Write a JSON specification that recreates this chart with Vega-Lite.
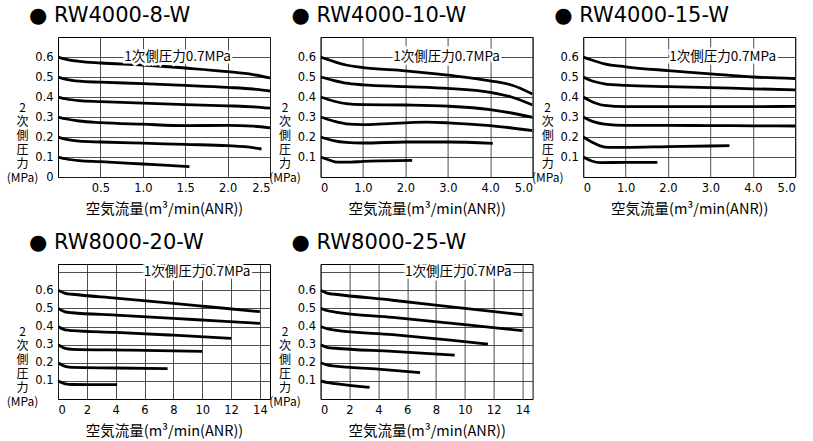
{
  "$schema": "https://vega.github.io/schema/vega-lite/v6.json",
  "background": "white",
  "padding": {"left": 5, "top": 4, "right": 5, "bottom": 3},
  "columns": 3,
  "bounds": "flush",
  "spacing": {"row": 87, "column": 50.6},
  "datasets": {
    "curves": [
      {"p":"RW4000-8-W","s":0.6,"x":0,"y":0.6},{"p":"RW4000-8-W","s":0.6,"x":0.1,"y":0.588},{"p":"RW4000-8-W","s":0.6,"x":0.25,"y":0.578},{"p":"RW4000-8-W","s":0.6,"x":0.5,"y":0.57},{"p":"RW4000-8-W","s":0.6,"x":1.0,"y":0.56},{"p":"RW4000-8-W","s":0.6,"x":1.5,"y":0.545},{"p":"RW4000-8-W","s":0.6,"x":2.0,"y":0.527},{"p":"RW4000-8-W","s":0.6,"x":2.3,"y":0.512},{"p":"RW4000-8-W","s":0.6,"x":2.5,"y":0.495},
      {"p":"RW4000-8-W","s":0.5,"x":0,"y":0.5},{"p":"RW4000-8-W","s":0.5,"x":0.1,"y":0.488},{"p":"RW4000-8-W","s":0.5,"x":0.25,"y":0.479},{"p":"RW4000-8-W","s":0.5,"x":0.5,"y":0.474},{"p":"RW4000-8-W","s":0.5,"x":1.0,"y":0.467},{"p":"RW4000-8-W","s":0.5,"x":1.5,"y":0.458},{"p":"RW4000-8-W","s":0.5,"x":2.0,"y":0.448},{"p":"RW4000-8-W","s":0.5,"x":2.3,"y":0.44},{"p":"RW4000-8-W","s":0.5,"x":2.5,"y":0.43},
      {"p":"RW4000-8-W","s":0.4,"x":0,"y":0.4},{"p":"RW4000-8-W","s":0.4,"x":0.1,"y":0.39},{"p":"RW4000-8-W","s":0.4,"x":0.25,"y":0.382},{"p":"RW4000-8-W","s":0.4,"x":0.5,"y":0.377},{"p":"RW4000-8-W","s":0.4,"x":1.0,"y":0.369},{"p":"RW4000-8-W","s":0.4,"x":1.5,"y":0.362},{"p":"RW4000-8-W","s":0.4,"x":2.0,"y":0.356},{"p":"RW4000-8-W","s":0.4,"x":2.3,"y":0.351},{"p":"RW4000-8-W","s":0.4,"x":2.5,"y":0.344},
      {"p":"RW4000-8-W","s":0.3,"x":0,"y":0.3},{"p":"RW4000-8-W","s":0.3,"x":0.1,"y":0.29},{"p":"RW4000-8-W","s":0.3,"x":0.25,"y":0.28},{"p":"RW4000-8-W","s":0.3,"x":0.5,"y":0.272},{"p":"RW4000-8-W","s":0.3,"x":1.0,"y":0.264},{"p":"RW4000-8-W","s":0.3,"x":1.5,"y":0.257},{"p":"RW4000-8-W","s":0.3,"x":2.0,"y":0.258},{"p":"RW4000-8-W","s":0.3,"x":2.3,"y":0.254},{"p":"RW4000-8-W","s":0.3,"x":2.5,"y":0.246},
      {"p":"RW4000-8-W","s":0.2,"x":0,"y":0.2},{"p":"RW4000-8-W","s":0.2,"x":0.1,"y":0.188},{"p":"RW4000-8-W","s":0.2,"x":0.25,"y":0.179},{"p":"RW4000-8-W","s":0.2,"x":0.5,"y":0.175},{"p":"RW4000-8-W","s":0.2,"x":1.0,"y":0.169},{"p":"RW4000-8-W","s":0.2,"x":1.5,"y":0.163},{"p":"RW4000-8-W","s":0.2,"x":2.0,"y":0.157},{"p":"RW4000-8-W","s":0.2,"x":2.2,"y":0.152},{"p":"RW4000-8-W","s":0.2,"x":2.4,"y":0.14},
      {"p":"RW4000-8-W","s":0.1,"x":0,"y":0.1},{"p":"RW4000-8-W","s":0.1,"x":0.1,"y":0.09},{"p":"RW4000-8-W","s":0.1,"x":0.25,"y":0.082},{"p":"RW4000-8-W","s":0.1,"x":0.5,"y":0.077},{"p":"RW4000-8-W","s":0.1,"x":1.0,"y":0.065},{"p":"RW4000-8-W","s":0.1,"x":1.3,"y":0.058},{"p":"RW4000-8-W","s":0.1,"x":1.55,"y":0.052},

      {"p":"RW4000-10-W","s":0.6,"x":0,"y":0.6},{"p":"RW4000-10-W","s":0.6,"x":0.3,"y":0.578},{"p":"RW4000-10-W","s":0.6,"x":0.6,"y":0.56},{"p":"RW4000-10-W","s":0.6,"x":1.0,"y":0.547},{"p":"RW4000-10-W","s":0.6,"x":2.0,"y":0.531},{"p":"RW4000-10-W","s":0.6,"x":3.0,"y":0.509},{"p":"RW4000-10-W","s":0.6,"x":4.0,"y":0.481},{"p":"RW4000-10-W","s":0.6,"x":4.5,"y":0.46},{"p":"RW4000-10-W","s":0.6,"x":5.0,"y":0.415},
      {"p":"RW4000-10-W","s":0.5,"x":0,"y":0.5},{"p":"RW4000-10-W","s":0.5,"x":0.3,"y":0.483},{"p":"RW4000-10-W","s":0.5,"x":0.6,"y":0.469},{"p":"RW4000-10-W","s":0.5,"x":1.0,"y":0.461},{"p":"RW4000-10-W","s":0.5,"x":2.0,"y":0.452},{"p":"RW4000-10-W","s":0.5,"x":3.0,"y":0.443},{"p":"RW4000-10-W","s":0.5,"x":4.0,"y":0.423},{"p":"RW4000-10-W","s":0.5,"x":4.5,"y":0.4},{"p":"RW4000-10-W","s":0.5,"x":5.0,"y":0.36},
      {"p":"RW4000-10-W","s":0.4,"x":0,"y":0.4},{"p":"RW4000-10-W","s":0.4,"x":0.3,"y":0.38},{"p":"RW4000-10-W","s":0.4,"x":0.6,"y":0.367},{"p":"RW4000-10-W","s":0.4,"x":1.0,"y":0.362},{"p":"RW4000-10-W","s":0.4,"x":2.0,"y":0.36},{"p":"RW4000-10-W","s":0.4,"x":3.0,"y":0.354},{"p":"RW4000-10-W","s":0.4,"x":4.0,"y":0.337},{"p":"RW4000-10-W","s":0.4,"x":4.5,"y":0.32},{"p":"RW4000-10-W","s":0.4,"x":5.0,"y":0.298},
      {"p":"RW4000-10-W","s":0.3,"x":0,"y":0.3},{"p":"RW4000-10-W","s":0.3,"x":0.3,"y":0.28},{"p":"RW4000-10-W","s":0.3,"x":0.6,"y":0.266},{"p":"RW4000-10-W","s":0.3,"x":1.0,"y":0.262},{"p":"RW4000-10-W","s":0.3,"x":1.5,"y":0.266},{"p":"RW4000-10-W","s":0.3,"x":2.0,"y":0.271},{"p":"RW4000-10-W","s":0.3,"x":2.5,"y":0.274},{"p":"RW4000-10-W","s":0.3,"x":3.0,"y":0.271},{"p":"RW4000-10-W","s":0.3,"x":4.0,"y":0.257},{"p":"RW4000-10-W","s":0.3,"x":5.0,"y":0.232},
      {"p":"RW4000-10-W","s":0.2,"x":0,"y":0.2},{"p":"RW4000-10-W","s":0.2,"x":0.3,"y":0.182},{"p":"RW4000-10-W","s":0.2,"x":0.6,"y":0.173},{"p":"RW4000-10-W","s":0.2,"x":1.0,"y":0.17},{"p":"RW4000-10-W","s":0.2,"x":2.0,"y":0.175},{"p":"RW4000-10-W","s":0.2,"x":3.0,"y":0.175},{"p":"RW4000-10-W","s":0.2,"x":4.06,"y":0.168},
      {"p":"RW4000-10-W","s":0.1,"x":0,"y":0.1},{"p":"RW4000-10-W","s":0.1,"x":0.2,"y":0.085},{"p":"RW4000-10-W","s":0.1,"x":0.4,"y":0.074},{"p":"RW4000-10-W","s":0.1,"x":0.7,"y":0.074},{"p":"RW4000-10-W","s":0.1,"x":1.0,"y":0.078},{"p":"RW4000-10-W","s":0.1,"x":1.5,"y":0.081},{"p":"RW4000-10-W","s":0.1,"x":2.16,"y":0.083},

      {"p":"RW4000-15-W","s":0.6,"x":0,"y":0.6},{"p":"RW4000-15-W","s":0.6,"x":0.2,"y":0.585},{"p":"RW4000-15-W","s":0.6,"x":0.5,"y":0.566},{"p":"RW4000-15-W","s":0.6,"x":1.0,"y":0.551},{"p":"RW4000-15-W","s":0.6,"x":2.0,"y":0.532},{"p":"RW4000-15-W","s":0.6,"x":3.0,"y":0.516},{"p":"RW4000-15-W","s":0.6,"x":4.0,"y":0.5},{"p":"RW4000-15-W","s":0.6,"x":5.0,"y":0.492},
      {"p":"RW4000-15-W","s":0.5,"x":0,"y":0.5},{"p":"RW4000-15-W","s":0.5,"x":0.15,"y":0.485},{"p":"RW4000-15-W","s":0.5,"x":0.3,"y":0.475},{"p":"RW4000-15-W","s":0.5,"x":0.5,"y":0.466},{"p":"RW4000-15-W","s":0.5,"x":1.0,"y":0.458},{"p":"RW4000-15-W","s":0.5,"x":2.0,"y":0.452},{"p":"RW4000-15-W","s":0.5,"x":3.0,"y":0.447},{"p":"RW4000-15-W","s":0.5,"x":4.0,"y":0.441},{"p":"RW4000-15-W","s":0.5,"x":5.0,"y":0.436},
      {"p":"RW4000-15-W","s":0.4,"x":0,"y":0.4},{"p":"RW4000-15-W","s":0.4,"x":0.15,"y":0.383},{"p":"RW4000-15-W","s":0.4,"x":0.3,"y":0.369},{"p":"RW4000-15-W","s":0.4,"x":0.5,"y":0.358},{"p":"RW4000-15-W","s":0.4,"x":1.0,"y":0.352},{"p":"RW4000-15-W","s":0.4,"x":2.0,"y":0.352},{"p":"RW4000-15-W","s":0.4,"x":3.0,"y":0.352},{"p":"RW4000-15-W","s":0.4,"x":4.0,"y":0.352},{"p":"RW4000-15-W","s":0.4,"x":5.0,"y":0.353},
      {"p":"RW4000-15-W","s":0.3,"x":0,"y":0.3},{"p":"RW4000-15-W","s":0.3,"x":0.15,"y":0.284},{"p":"RW4000-15-W","s":0.3,"x":0.3,"y":0.273},{"p":"RW4000-15-W","s":0.3,"x":0.5,"y":0.264},{"p":"RW4000-15-W","s":0.3,"x":1.0,"y":0.258},{"p":"RW4000-15-W","s":0.3,"x":2.0,"y":0.258},{"p":"RW4000-15-W","s":0.3,"x":3.0,"y":0.257},{"p":"RW4000-15-W","s":0.3,"x":4.0,"y":0.256},{"p":"RW4000-15-W","s":0.3,"x":5.0,"y":0.255},
      {"p":"RW4000-15-W","s":0.2,"x":0,"y":0.2},{"p":"RW4000-15-W","s":0.2,"x":0.2,"y":0.175},{"p":"RW4000-15-W","s":0.2,"x":0.4,"y":0.156},{"p":"RW4000-15-W","s":0.2,"x":0.6,"y":0.148},{"p":"RW4000-15-W","s":0.2,"x":1.0,"y":0.148},{"p":"RW4000-15-W","s":0.2,"x":2.0,"y":0.152},{"p":"RW4000-15-W","s":0.2,"x":3.0,"y":0.155},{"p":"RW4000-15-W","s":0.2,"x":3.45,"y":0.157},
      {"p":"RW4000-15-W","s":0.1,"x":0,"y":0.1},{"p":"RW4000-15-W","s":0.1,"x":0.2,"y":0.08},{"p":"RW4000-15-W","s":0.1,"x":0.4,"y":0.072},{"p":"RW4000-15-W","s":0.1,"x":1.0,"y":0.073},{"p":"RW4000-15-W","s":0.1,"x":1.75,"y":0.073},

      {"p":"RW8000-20-W","s":0.6,"x":0,"y":0.6},{"p":"RW8000-20-W","s":0.6,"x":0.5,"y":0.583},{"p":"RW8000-20-W","s":0.6,"x":1,"y":0.578},{"p":"RW8000-20-W","s":0.6,"x":4,"y":0.557},{"p":"RW8000-20-W","s":0.6,"x":8,"y":0.528},{"p":"RW8000-20-W","s":0.6,"x":11,"y":0.505},{"p":"RW8000-20-W","s":0.6,"x":14,"y":0.482},
      {"p":"RW8000-20-W","s":0.5,"x":0,"y":0.5},{"p":"RW8000-20-W","s":0.5,"x":0.5,"y":0.481},{"p":"RW8000-20-W","s":0.5,"x":1,"y":0.476},{"p":"RW8000-20-W","s":0.5,"x":4,"y":0.463},{"p":"RW8000-20-W","s":0.5,"x":8,"y":0.445},{"p":"RW8000-20-W","s":0.5,"x":11,"y":0.431},{"p":"RW8000-20-W","s":0.5,"x":14,"y":0.417},
      {"p":"RW8000-20-W","s":0.4,"x":0,"y":0.4},{"p":"RW8000-20-W","s":0.4,"x":0.5,"y":0.381},{"p":"RW8000-20-W","s":0.4,"x":1,"y":0.377},{"p":"RW8000-20-W","s":0.4,"x":4,"y":0.368},{"p":"RW8000-20-W","s":0.4,"x":8,"y":0.352},{"p":"RW8000-20-W","s":0.4,"x":12,"y":0.334},
      {"p":"RW8000-20-W","s":0.3,"x":0,"y":0.3},{"p":"RW8000-20-W","s":0.3,"x":0.5,"y":0.279},{"p":"RW8000-20-W","s":0.3,"x":1,"y":0.274},{"p":"RW8000-20-W","s":0.3,"x":5,"y":0.27},{"p":"RW8000-20-W","s":0.3,"x":10,"y":0.263},
      {"p":"RW8000-20-W","s":0.2,"x":0,"y":0.2},{"p":"RW8000-20-W","s":0.2,"x":0.5,"y":0.18},{"p":"RW8000-20-W","s":0.2,"x":1,"y":0.174},{"p":"RW8000-20-W","s":0.2,"x":4,"y":0.171},{"p":"RW8000-20-W","s":0.2,"x":7.6,"y":0.167},
      {"p":"RW8000-20-W","s":0.1,"x":0,"y":0.1},{"p":"RW8000-20-W","s":0.1,"x":0.5,"y":0.084},{"p":"RW8000-20-W","s":0.1,"x":1,"y":0.08},{"p":"RW8000-20-W","s":0.1,"x":4.1,"y":0.079},

      {"p":"RW8000-25-W","s":0.6,"x":0,"y":0.6},{"p":"RW8000-25-W","s":0.6,"x":0.5,"y":0.583},{"p":"RW8000-25-W","s":0.6,"x":1,"y":0.578},{"p":"RW8000-25-W","s":0.6,"x":5,"y":0.545},{"p":"RW8000-25-W","s":0.6,"x":10,"y":0.5},{"p":"RW8000-25-W","s":0.6,"x":14,"y":0.465},
      {"p":"RW8000-25-W","s":0.5,"x":0,"y":0.5},{"p":"RW8000-25-W","s":0.5,"x":0.5,"y":0.487},{"p":"RW8000-25-W","s":0.5,"x":1,"y":0.48},{"p":"RW8000-25-W","s":0.5,"x":5,"y":0.45},{"p":"RW8000-25-W","s":0.5,"x":10,"y":0.41},{"p":"RW8000-25-W","s":0.5,"x":14,"y":0.377},
      {"p":"RW8000-25-W","s":0.4,"x":0,"y":0.4},{"p":"RW8000-25-W","s":0.4,"x":0.5,"y":0.387},{"p":"RW8000-25-W","s":0.4,"x":1,"y":0.38},{"p":"RW8000-25-W","s":0.4,"x":5,"y":0.355},{"p":"RW8000-25-W","s":0.4,"x":9,"y":0.325},{"p":"RW8000-25-W","s":0.4,"x":11.6,"y":0.303},
      {"p":"RW8000-25-W","s":0.3,"x":0,"y":0.3},{"p":"RW8000-25-W","s":0.3,"x":0.5,"y":0.284},{"p":"RW8000-25-W","s":0.3,"x":1,"y":0.28},{"p":"RW8000-25-W","s":0.3,"x":5,"y":0.263},{"p":"RW8000-25-W","s":0.3,"x":9.3,"y":0.242},
      {"p":"RW8000-25-W","s":0.2,"x":0,"y":0.2},{"p":"RW8000-25-W","s":0.2,"x":0.5,"y":0.187},{"p":"RW8000-25-W","s":0.2,"x":1,"y":0.182},{"p":"RW8000-25-W","s":0.2,"x":4,"y":0.165},{"p":"RW8000-25-W","s":0.2,"x":6.9,"y":0.145},
      {"p":"RW8000-25-W","s":0.1,"x":0,"y":0.1},{"p":"RW8000-25-W","s":0.1,"x":0.5,"y":0.09},{"p":"RW8000-25-W","s":0.1,"x":1,"y":0.085},{"p":"RW8000-25-W","s":0.1,"x":3.4,"y":0.064}
    ],
    "notes": [
      {"p":"RW4000-8-W","x":1.41,"y":0.6,"t":"1次側圧力0.7MPa"},
      {"p":"RW4000-10-W","x":2.97,"y":0.6,"t":"1次側圧力0.7MPa"},
      {"p":"RW4000-15-W","x":3.29,"y":0.6,"t":"1次側圧力0.7MPa"},
      {"p":"RW8000-20-W","x":9.64,"y":0.7,"t":"1次側圧力0.7MPa"},
      {"p":"RW8000-25-W","x":9.55,"y":0.7,"t":"1次側圧力0.7MPa"}
    ]
  },
  "concat": [
    {
      "title": "● RW4000-8-W",
      "width": 212, "height": 140,
      "encoding": {
        "x": {"field": "x", "type": "quantitative", "scale": {"domain": [0, 2.5], "nice": false}, "axis": {"values": [0.5, 1, 1.5, 2, 2.5], "format": ".1f", "title": "空気流量(m³/min(ANR))"}},
        "y": {"field": "y", "type": "quantitative", "scale": {"domain": [0, 0.7], "nice": false}, "axis": {"values": [0, 0.1, 0.2, 0.3, 0.4, 0.5, 0.6], "labelExpr": "datum.value == 0 ? '0' : format(datum.value, '.1f')", "title": ["2", "次", "側", "圧", "力", "(MPa)"], "titleY": 70}}
      },
      "layer": [
        {"data": {"name": "curves"}, "transform": [{"filter": "datum.p === 'RW4000-8-W'"}], "mark": {"type": "line", "interpolate": "monotone", "color": "black", "strokeWidth": 2.8, "clip": true}, "encoding": {"detail": {"field": "s"}}},
        {"data": {"name": "notes"}, "transform": [{"filter": "datum.p === 'RW4000-8-W'"}], "mark": {"type": "text", "font": "Noto Sans CJK JP", "fontSize": 13.5, "stroke": "white", "strokeWidth": 5, "fill": "white"}, "encoding": {"text": {"field": "t"}}},
        {"data": {"name": "notes"}, "transform": [{"filter": "datum.p === 'RW4000-8-W'"}], "mark": {"type": "text", "font": "Noto Sans CJK JP", "fontSize": 13.5, "color": "black"}, "encoding": {"text": {"field": "t"}}}
      ]
    },
    {
      "title": "● RW4000-10-W",
      "width": 212, "height": 140,
      "encoding": {
        "x": {"field": "x", "type": "quantitative", "scale": {"domain": [0, 5], "nice": false}, "axis": {"values": [0, 1, 2, 3, 4, 5], "labelExpr": "datum.value == 0 ? '0' : format(datum.value, '.1f')", "title": "空気流量(m³/min(ANR))"}},
        "y": {"field": "y", "type": "quantitative", "scale": {"domain": [0, 0.7], "nice": false}, "axis": {"values": [0.1, 0.2, 0.3, 0.4, 0.5, 0.6], "format": ".1f", "title": ["2", "次", "側", "圧", "力", "(MPa)"], "titleY": 70}}
      },
      "layer": [
        {"data": {"name": "curves"}, "transform": [{"filter": "datum.p === 'RW4000-10-W'"}], "mark": {"type": "line", "interpolate": "monotone", "color": "black", "strokeWidth": 2.8, "clip": true}, "encoding": {"detail": {"field": "s"}}},
        {"data": {"name": "notes"}, "transform": [{"filter": "datum.p === 'RW4000-10-W'"}], "mark": {"type": "text", "font": "Noto Sans CJK JP", "fontSize": 13.5, "stroke": "white", "strokeWidth": 5, "fill": "white"}, "encoding": {"text": {"field": "t"}}},
        {"data": {"name": "notes"}, "transform": [{"filter": "datum.p === 'RW4000-10-W'"}], "mark": {"type": "text", "font": "Noto Sans CJK JP", "fontSize": 13.5, "color": "black"}, "encoding": {"text": {"field": "t"}}}
      ]
    },
    {
      "title": "● RW4000-15-W",
      "width": 212, "height": 140,
      "encoding": {
        "x": {"field": "x", "type": "quantitative", "scale": {"domain": [0, 5], "nice": false}, "axis": {"values": [0, 1, 2, 3, 4, 5], "labelExpr": "datum.value == 0 ? '0' : format(datum.value, '.1f')", "title": "空気流量(m³/min(ANR))"}},
        "y": {"field": "y", "type": "quantitative", "scale": {"domain": [0, 0.7], "nice": false}, "axis": {"values": [0.1, 0.2, 0.3, 0.4, 0.5, 0.6], "format": ".1f", "title": ["2", "次", "側", "圧", "力", "(MPa)"], "titleY": 70}}
      },
      "layer": [
        {"data": {"name": "curves"}, "transform": [{"filter": "datum.p === 'RW4000-15-W'"}], "mark": {"type": "line", "interpolate": "monotone", "color": "black", "strokeWidth": 2.8, "clip": true}, "encoding": {"detail": {"field": "s"}}},
        {"data": {"name": "notes"}, "transform": [{"filter": "datum.p === 'RW4000-15-W'"}], "mark": {"type": "text", "font": "Noto Sans CJK JP", "fontSize": 13.5, "stroke": "white", "strokeWidth": 5, "fill": "white"}, "encoding": {"text": {"field": "t"}}},
        {"data": {"name": "notes"}, "transform": [{"filter": "datum.p === 'RW4000-15-W'"}], "mark": {"type": "text", "font": "Noto Sans CJK JP", "fontSize": 13.5, "color": "black"}, "encoding": {"text": {"field": "t"}}}
      ]
    },
    {
      "title": "● RW8000-20-W",
      "width": 212, "height": 135,
      "encoding": {
        "x": {"field": "x", "type": "quantitative", "scale": {"domain": [0, 14.7], "nice": false}, "axis": {"values": [0, 2, 4, 6, 8, 10, 12, 14], "format": "d", "title": "空気流量(m³/min(ANR))"}},
        "y": {"field": "y", "type": "quantitative", "scale": {"domain": [0, 0.745], "nice": false}, "axis": {"values": [0.1, 0.2, 0.3, 0.4, 0.5, 0.6, 0.7], "labelExpr": "datum.value > 0.65 ? '' : format(datum.value, '.1f')", "title": ["2", "次", "側", "圧", "力", "(MPa)"], "titleY": 67.5}}
      },
      "layer": [
        {"data": {"name": "curves"}, "transform": [{"filter": "datum.p === 'RW8000-20-W'"}], "mark": {"type": "line", "interpolate": "monotone", "color": "black", "strokeWidth": 2.8, "clip": true}, "encoding": {"detail": {"field": "s"}}},
        {"data": {"name": "notes"}, "transform": [{"filter": "datum.p === 'RW8000-20-W'"}], "mark": {"type": "text", "font": "Noto Sans CJK JP", "fontSize": 13.5, "stroke": "white", "strokeWidth": 5, "fill": "white"}, "encoding": {"text": {"field": "t"}}},
        {"data": {"name": "notes"}, "transform": [{"filter": "datum.p === 'RW8000-20-W'"}], "mark": {"type": "text", "font": "Noto Sans CJK JP", "fontSize": 13.5, "color": "black"}, "encoding": {"text": {"field": "t"}}}
      ]
    },
    {
      "title": "● RW8000-25-W",
      "width": 212, "height": 135,
      "encoding": {
        "x": {"field": "x", "type": "quantitative", "scale": {"domain": [0, 14.7], "nice": false}, "axis": {"values": [0, 2, 4, 6, 8, 10, 12, 14], "format": "d", "title": "空気流量(m³/min(ANR))"}},
        "y": {"field": "y", "type": "quantitative", "scale": {"domain": [0, 0.745], "nice": false}, "axis": {"values": [0.1, 0.2, 0.3, 0.4, 0.5, 0.6, 0.7], "labelExpr": "datum.value > 0.65 ? '' : format(datum.value, '.1f')", "title": ["2", "次", "側", "圧", "力", "(MPa)"], "titleY": 67.5}}
      },
      "layer": [
        {"data": {"name": "curves"}, "transform": [{"filter": "datum.p === 'RW8000-25-W'"}], "mark": {"type": "line", "interpolate": "monotone", "color": "black", "strokeWidth": 2.8, "clip": true}, "encoding": {"detail": {"field": "s"}}},
        {"data": {"name": "notes"}, "transform": [{"filter": "datum.p === 'RW8000-25-W'"}], "mark": {"type": "text", "font": "Noto Sans CJK JP", "fontSize": 13.5, "stroke": "white", "strokeWidth": 5, "fill": "white"}, "encoding": {"text": {"field": "t"}}},
        {"data": {"name": "notes"}, "transform": [{"filter": "datum.p === 'RW8000-25-W'"}], "mark": {"type": "text", "font": "Noto Sans CJK JP", "fontSize": 13.5, "color": "black"}, "encoding": {"text": {"field": "t"}}}
      ]
    }
  ],
  "config": {
    "view": {"stroke": "black", "strokeWidth": 1},
    "axis": {"grid": true, "gridColor": "#222222", "gridWidth": 0.8, "gridOpacity": 1, "domain": false, "ticks": false, "labelFont": "DejaVu Sans", "labelFontSize": 11.5, "labelColor": "black", "labelPadding": 5, "titleFont": "Noto Sans CJK JP", "titleFontWeight": "normal", "titleFontSize": 14.5, "titleColor": "black"},
    "axisY": {"titleAngle": 0, "titleAlign": "center", "titleBaseline": "middle", "titleFontSize": 12, "titleLineHeight": 14, "titleX": -36},
    "axisX": {"titlePadding": 9},
    "title": {"font": "DejaVu Sans", "fontSize": 21, "fontWeight": "normal", "anchor": "start", "frame": "group", "dx": -29, "offset": 11, "color": "black", "baseline": "alphabetic"}
  }
}
